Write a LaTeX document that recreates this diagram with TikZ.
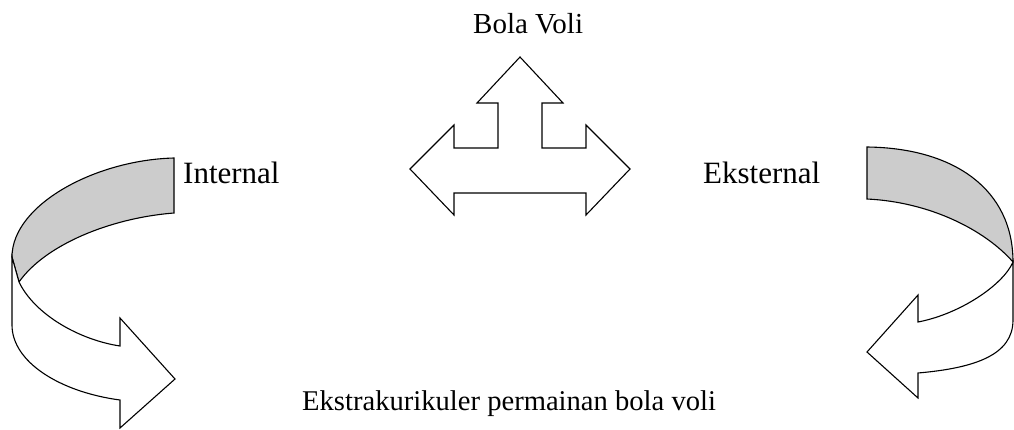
\documentclass[tikz,border=0pt]{standalone}
\usepackage{fontspec}
\setmainfont{Liberation Serif}
\definecolor{bandgray}{RGB}{204,204,204}
\begin{document}
\begin{tikzpicture}[x=1pt,y=-1pt,
  shapeline/.style={draw=black,line width=1.1pt,line join=miter},
  lbl/.style={inner sep=0pt,anchor=base west,font=\fontsize{29}{34}\selectfont},
  biglbl/.style={lbl,font=\fontsize{31}{36}\selectfont}]
\useasboundingbox (0,0) rectangle (1014,429);
% T-shaped three-way arrow
\draw[shapeline,fill=white] (520,57) -- (563,103) -- (542,103) -- (542,148) -- (586,148) -- (586,125) -- (630,169) -- (586,215) -- (586,193) -- (454,193) -- (454,215) -- (410,169) -- (454,125) -- (454,148) -- (498,148) -- (498,103) -- (477,103) -- cycle;
% left curved arrow: gray back band
\draw[shapeline,fill=bandgray] (174,158) .. controls (95,160) and (12,205) .. (12,257) -- (19,282) .. controls (45,245) and (110,218) .. (174,213) -- cycle;
% left curved arrow: white front with head
\draw[shapeline,fill=white] (12,257) -- (12,325) .. controls (12,362) and (60,392) .. (120,400) -- (120,428) -- (175,379) -- (120,318) -- (120,346) .. controls (80,340) and (35,315) .. (19,282) -- cycle;
% right curved arrow: gray back band
\draw[shapeline,fill=bandgray] (867,147) .. controls (955,148) and (1013,190) .. (1013,262) .. controls (985,230) and (930,202) .. (867,199) -- cycle;
% right curved arrow: white front with head
\draw[shapeline,fill=white] (1013,262) -- (1013,320) .. controls (1013,355) and (975,368) .. (918,373) -- (918,398) -- (867,352) -- (918,295) -- (918,322) .. controls (960,314) and (1003,285) .. (1013,262) -- cycle;
% labels
\node[lbl] (bola) at (473,33) {Bola Voli};
\node[biglbl] (internal) at (183,183) {Internal};
\node[biglbl] (eksternal) at (703,183) {Eksternal};
\node[lbl,font=\fontsize{28.6}{34}\selectfont] (ekstra) at (302,410) {Ekstrakurikuler permainan bola voli};
\end{tikzpicture}
\end{document}
